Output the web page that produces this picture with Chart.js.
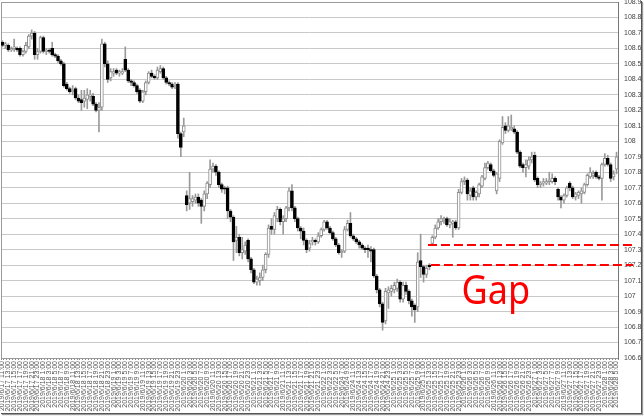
<!DOCTYPE html>
<html>
<head>
<meta charset="utf-8">
<script src="https://cdn.jsdelivr.net/npm/chart.js@4.4.1/dist/chart.umd.min.js"></script>
<style>
  html, body { margin: 0; padding: 0; background: #fff; overflow: hidden; }
  #wrap { position: relative; width: 644px; height: 416px; }
  #frame {
    position: absolute; left: 0; top: 0; width: 641px; height: 413px;
    box-shadow: 1px 1px 0 #555, 2px 2px 1px #999; pointer-events: none;
  }
</style>
</head>
<body>
<div id="wrap">
  <canvas id="chart" width="644" height="416"></canvas>
  <div id="frame"></div>
</div>
<script>
// hourly sessions shown on the x axis (day, first hour, last hour)
const sessions = [
  ["2019/6/17", 11, 23], ["2019/6/18", 0, 23], ["2019/6/19", 0, 23],
  ["2019/6/20", 0, 23], ["2019/6/21", 0, 23], ["2019/6/22", 0, 5],
  ["2019/6/24", 6, 23], ["2019/6/25", 0, 23], ["2019/6/26", 0, 23],
  ["2019/6/27", 0, 23], ["2019/6/28", 0, 5]
];

const opens = [
  108.64,108.62,108.62,108.59,108.60,108.60,108.60,108.56,108.58,108.61,
  108.68,108.70,108.56,108.58,108.67,108.58,108.59,108.60,108.56,108.55,
  108.52,108.50,108.37,108.34,108.32,108.34,108.28,108.27,108.26,108.27,
  108.29,108.29,108.24,108.20,108.22,108.63,108.50,108.41,108.44,108.46,
  108.44,108.44,108.53,108.46,108.39,108.38,108.36,108.33,108.26,108.32,
  108.38,108.44,108.42,108.41,108.45,108.47,108.41,108.38,108.37,108.36,
  108.37,108.05,108.06,107.65,107.60,107.61,107.62,107.64,107.62,107.58,
  107.66,107.72,107.82,107.84,107.80,107.72,107.70,107.70,107.55,107.51,
  107.36,107.38,107.28,107.29,107.36,107.24,107.17,107.09,107.10,107.12,
  107.17,107.27,107.45,107.43,107.50,107.56,107.48,107.50,107.57,107.68,
  107.57,107.50,107.44,107.42,107.36,107.31,107.35,107.36,107.35,107.39,
  107.43,107.48,107.44,107.41,107.37,107.33,107.28,107.29,107.43,107.47,
  107.39,107.37,107.35,107.33,107.31,107.31,107.30,107.30,107.13,107.04,
  106.95,106.84,107.02,107.03,107.04,107.05,107.09,106.98,107.07,107.03,
  106.97,106.94,106.93,107.23,107.19,107.14,107.20,107.34,107.38,107.44,
  107.48,107.49,107.50,107.46,107.47,107.48,107.44,107.67,107.74,107.75,
  107.65,107.70,107.64,107.66,107.71,107.76,107.83,107.85,107.81,107.68,
  107.76,107.99,108.10,108.07,108.08,108.08,108.06,107.93,107.85,107.83,
  107.84,107.88,107.91,107.76,107.72,107.73,107.73,107.74,107.74,107.76,
  107.69,107.64,107.62,107.65,107.73,107.70,107.64,107.65,107.66,107.67,
  107.72,107.77,107.78,107.80,107.77,107.76,107.85,107.89,107.85,107.77,
  107.82
];
const highs = [
  108.65,108.64,108.63,108.61,108.66,108.61,108.61,108.59,108.64,108.69,
  108.72,108.71,108.60,108.68,108.68,108.60,108.60,108.64,108.57,108.56,
  108.53,108.51,108.38,108.35,108.36,108.35,108.30,108.33,108.33,108.34,
  108.33,108.31,108.25,108.25,108.66,108.64,108.52,108.47,108.47,108.47,
  108.46,108.47,108.61,108.47,108.40,108.39,108.37,108.34,108.33,108.39,
  108.45,108.46,108.43,108.48,108.49,108.48,108.42,108.39,108.38,108.38,
  108.38,108.06,108.15,107.68,107.80,107.65,107.66,107.66,107.63,107.68,
  107.74,107.88,107.86,107.85,107.81,107.73,107.71,107.71,107.56,107.52,
  107.45,107.40,107.38,107.35,107.37,107.25,107.18,107.13,107.15,107.20,
  107.28,107.46,107.50,107.54,107.58,107.57,107.52,107.58,107.70,107.72,
  107.58,107.51,107.45,107.44,107.37,107.36,107.38,107.37,107.41,107.44,
  107.49,107.49,107.45,107.42,107.38,107.34,107.30,107.45,107.49,107.54,
  107.40,107.38,107.36,107.34,107.32,107.33,107.32,107.31,107.14,107.05,
  106.96,107.05,107.06,107.07,107.09,107.11,107.10,107.09,107.09,107.04,
  106.98,106.95,107.28,107.40,107.20,107.20,107.21,107.39,107.46,107.50,
  107.52,107.51,107.51,107.50,107.49,107.49,107.69,107.76,107.77,107.76,
  107.70,107.71,107.68,107.73,107.78,107.86,107.87,107.86,107.82,107.80,
  108.01,108.16,108.12,108.16,108.17,108.10,108.07,107.94,107.86,107.88,
  107.90,107.93,107.93,107.77,107.74,107.76,107.76,107.80,107.79,107.77,
  107.70,107.65,107.66,107.71,107.74,107.71,107.67,107.68,107.70,107.73,
  107.79,107.83,107.81,107.81,107.78,107.86,107.92,107.91,107.86,107.81,
  107.93
];
const lows = [
  108.61,108.60,108.58,108.58,108.58,108.58,108.55,108.55,108.57,108.60,
  108.66,108.53,108.53,108.57,108.57,108.56,108.57,108.55,108.54,108.51,
  108.49,108.35,108.33,108.31,108.30,108.27,108.25,108.20,108.22,108.21,
  108.26,108.23,108.19,108.06,108.20,108.48,108.38,108.39,108.42,108.43,
  108.42,108.43,108.45,108.38,108.36,108.35,108.31,108.25,108.25,108.30,
  108.37,108.41,108.40,108.40,108.44,108.40,108.37,108.36,108.34,108.34,
  108.02,107.90,108.03,107.55,107.56,107.58,107.60,107.58,107.47,107.55,
  107.63,107.70,107.80,107.78,107.70,107.67,107.66,107.50,107.48,107.23,
  107.28,107.26,107.24,107.27,107.22,107.15,107.08,107.07,107.07,107.10,
  107.15,107.25,107.40,107.40,107.48,107.46,107.40,107.48,107.55,107.55,
  107.48,107.42,107.37,107.33,107.28,107.29,107.33,107.33,107.34,107.38,
  107.42,107.43,107.40,107.36,107.32,107.27,107.25,107.28,107.42,107.38,
  107.36,107.34,107.31,107.30,107.28,107.25,107.22,107.12,107.02,106.93,
  106.78,106.82,106.92,107.00,107.02,107.03,106.96,106.96,107.01,106.95,
  106.87,106.83,106.90,107.12,107.09,107.12,107.17,107.33,107.37,107.43,
  107.46,107.47,107.45,107.44,107.38,107.43,107.43,107.66,107.72,107.62,
  107.62,107.62,107.62,107.64,107.70,107.75,107.82,107.80,107.77,107.66,
  107.74,107.98,108.05,108.06,108.07,108.05,107.92,107.83,107.80,107.77,
  107.82,107.86,107.74,107.70,107.70,107.71,107.72,107.72,107.73,107.72,
  107.62,107.57,107.60,107.64,107.68,107.63,107.62,107.63,107.60,107.66,
  107.71,107.76,107.76,107.76,107.75,107.62,107.84,107.84,107.74,107.75,
  107.79
];
const closes = [
  108.62,108.63,108.59,108.60,108.61,108.59,108.56,108.58,108.62,108.68,
  108.70,108.56,108.58,108.67,108.58,108.59,108.58,108.56,108.55,108.52,
  108.50,108.36,108.34,108.32,108.33,108.28,108.26,108.25,108.28,108.30,
  108.30,108.24,108.20,108.22,108.63,108.50,108.40,108.45,108.45,108.44,
  108.45,108.45,108.46,108.39,108.38,108.36,108.32,108.26,108.32,108.38,
  108.44,108.42,108.41,108.46,108.47,108.41,108.38,108.37,108.35,108.37,
  108.05,107.96,108.10,107.59,107.63,107.63,107.64,107.60,107.58,107.66,
  107.73,107.82,107.84,107.80,107.72,107.69,107.69,107.55,107.51,107.35,
  107.38,107.28,107.30,107.33,107.24,107.17,107.09,107.11,107.12,107.17,
  107.27,107.44,107.43,107.52,107.56,107.48,107.50,107.57,107.68,107.57,
  107.50,107.44,107.42,107.36,107.30,107.34,107.36,107.35,107.39,107.43,
  107.48,107.44,107.41,107.37,107.33,107.28,107.29,107.43,107.47,107.39,
  107.37,107.35,107.33,107.31,107.30,107.30,107.29,107.13,107.04,106.95,
  106.83,107.03,107.04,107.05,107.07,107.09,106.98,107.07,107.03,106.97,
  106.93,106.91,107.22,107.19,107.14,107.18,107.19,107.38,107.44,107.48,
  107.50,107.50,107.46,107.48,107.48,107.44,107.67,107.74,107.75,107.66,
  107.68,107.64,107.67,107.72,107.77,107.83,107.86,107.81,107.78,107.79,
  108.00,108.09,108.07,108.10,108.09,108.06,107.93,107.84,107.83,107.85,
  107.88,107.90,107.75,107.72,107.73,107.74,107.74,107.75,107.76,107.74,
  107.64,107.62,107.65,107.70,107.70,107.64,107.66,107.67,107.68,107.72,
  107.78,107.80,107.79,107.77,107.76,107.85,107.89,107.85,107.76,107.79,
  107.90
];

// the marked gap: price levels and the candles the lines start from
const gapLevels = [107.33, 107.2];
const gapStart = [145, 146];
const gapText = "Gap";

const labels = [];
sessions.forEach(([day, from, to]) => {
  for (let h = from; h <= to; h++) labels.push(day + " " + h + ":00");
});

const upColor = "#ffffff", downColor = "#000000";
const bodyFill = opens.map((o, i) => (closes[i] >= o ? upColor : downColor));
const bodyLine = opens.map((o, i) => (closes[i] >= o ? "#8c8c8c" : downColor));

const gapPlugin = {
  id: "gap",
  beforeDatasetsDraw(chart) {
    const { ctx, chartArea } = chart;
    ctx.save();
    ctx.strokeStyle = "#9a9a9a";
    ctx.lineWidth = 1;
    ctx.beginPath();
    ctx.moveTo(chartArea.left + 0.5, chartArea.bottom);
    ctx.lineTo(chartArea.left + 0.5, chartArea.top + 0.5);
    ctx.lineTo(chartArea.right, chartArea.top + 0.5);
    ctx.stroke();
    ctx.restore();
  },
  afterDatasetsDraw(chart) {
    const { ctx, chartArea, scales } = chart;
    ctx.save();
    ctx.strokeStyle = "#ff0000";
    ctx.lineWidth = 2;
    ctx.setLineDash([9, 4]);
    gapLevels.forEach((lvl, k) => {
      const y = Math.round(scales.y.getPixelForValue(lvl));
      ctx.beginPath();
      ctx.moveTo(scales.x.getPixelForValue(gapStart[k]) + 1.5, y);
      ctx.lineTo(chartArea.right + 15, y);
      ctx.stroke();
    });
    ctx.setLineDash([]);
    // label, a bit narrower than the plain font
    const tx = scales.x.getPixelForValue(157);
    const ty = scales.y.getPixelForValue(106.95);
    ctx.translate(tx, ty);
    ctx.scale(0.9, 1);
    ctx.fillStyle = "#ff0000";
    ctx.font = '40px "Noto Sans"';
    ctx.textBaseline = "alphabetic";
    ctx.fillText(gapText, 0, 0);
    ctx.restore();
  }
};

new Chart(document.getElementById("chart").getContext("2d"), {
  type: "bar",
  data: {
    labels: labels,
    datasets: [
      {
        label: "wick",
        data: labels.map((_, i) => [lows[i], highs[i]]),
        backgroundColor: "#9a9a9a",
        borderWidth: 0,
        barThickness: 1,
        grouped: false,
        order: 2
      },
      {
        label: "body",
        data: labels.map((_, i) => [opens[i], closes[i]]),
        backgroundColor: bodyFill,
        borderColor: bodyLine,
        borderWidth: 1,
        borderSkipped: false,
        barThickness: 3,
        minBarLength: 1,
        grouped: false,
        order: 1
      }
    ]
  },
  options: {
    responsive: false,
    animation: false,
    layout: { padding: { left: 1, top: 2, right: 0, bottom: 0 } },
    plugins: { legend: { display: false }, tooltip: { enabled: false } },
    scales: {
      x: {
        offset: true,
        grid: { drawOnChartArea: false, drawTicks: true, tickLength: 2, color: "#8a8a8a" },
        border: { display: true, color: "#9a9a9a" },
        ticks: {
          autoSkip: false,
          minRotation: 90,
          maxRotation: 90,
          padding: 1,
          color: "#555",
          font: { family: "Liberation Sans", size: 7 },
          callback(value) {
            const lab = this.getLabelForValue(value);
            const h = parseInt(lab.split(" ")[1], 10);
            return h % 2 === 1 ? lab : "";
          }
        },
        afterFit(scale) {
          scale.height = 58;
          scale.paddingLeft = 0;
          scale.paddingRight = 0;
        }
      },
      y: {
        position: "right",
        min: 106.6,
        max: 108.9,
        grid: { color: "#c8c8c8", drawTicks: false },
        border: { display: true, color: "#777" },
        ticks: {
          stepSize: 0.1,
          padding: 6,
          color: "#444",
          font: { family: "Liberation Sans", size: 7 },
          callback: v => String(Math.round(v * 10) / 10)
        },
        afterFit(scale) {
          scale.width = 26;
          scale.paddingTop = 0;
          scale.paddingBottom = 0;
        }
      }
    }
  },
  plugins: [gapPlugin]
});
</script>
</body>
</html>
